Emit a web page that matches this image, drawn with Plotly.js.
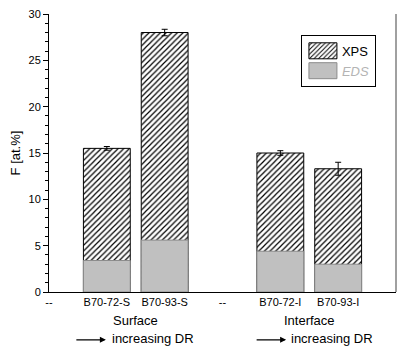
<!DOCTYPE html>
<html>
<head>
<meta charset="utf-8">
<script src="https://cdn.plot.ly/plotly-3.0.1.min.js"></script>
<style>html,body{margin:0;padding:0;background:#fff;}</style>
</head>
<body>
<div id="chart" style="width:397px;height:348px;"></div>
<script>
// Data
var tickPositions = [0, 1, 2, 3, 4, 5, 6];
var tickLabels = ['--', 'B70-72-S', 'B70-93-S', '--', 'B70-72-I', 'B70-93-I', '--'];
var barPositions = [1, 2, 4, 5];
var samples = ['B70-72-S', 'B70-93-S', 'B70-72-I', 'B70-93-I'];
var xpsValues = [15.5, 28.0, 15.0, 13.3];
var xpsErrors = [0.2, 0.35, 0.25, 0.7];
var edsValues = [3.4, 5.6, 4.4, 3.0];
var groupLabels = ['Surface', 'Interface'];
var groupCenters = [1.5, 4.5];

var font = 'Liberation Sans, Arial, sans-serif';

var traces = [
  {
    type: 'bar', x: barPositions, y: xpsValues, name: 'XPS', width: 0.81,
    text: samples, hoverinfo: 'text+y', textposition: 'none',
    marker: {color: 'white', line: {color: '#000', width: 1},
      pattern: {shape: '/', fgcolor: '#000', bgcolor: '#fff', size: 4, solidity: 0.3}},
    error_y: {type: 'data', array: xpsErrors, visible: true, color: '#000', thickness: 1, width: 3}
  },
  {
    type: 'bar', x: barPositions, y: edsValues,
    name: '<span style="color:#b4b4b4"><i>EDS</i></span>', width: 0.81,
    text: samples, hoverinfo: 'text+y', textposition: 'none',
    marker: {color: '#c0c0c0', line: {color: '#8c8c8c', width: 1}}
  }
];

var annotations = [];
groupLabels.forEach(function (g, i) {
  annotations.push({x: groupCenters[i], xref: 'x', y: -0.104, yref: 'paper', text: g,
    showarrow: false, font: {family: font, size: 13, color: '#000'}, xanchor: 'center', yanchor: 'middle'});
});
var arrowTips = [0.983, 4.10];
var textStarts = [1.05, 4.155];
arrowTips.forEach(function (t, i) {
  annotations.push({x: t, xref: 'x', y: -0.172, yref: 'paper', ax: -31, ay: 0, text: '',
    showarrow: true, arrowhead: 2, arrowsize: 1, arrowwidth: 1.2, arrowcolor: '#000'});
  annotations.push({x: textStarts[i], xref: 'x', y: -0.169, yref: 'paper', text: 'increasing DR',
    showarrow: false, font: {family: font, size: 13, color: '#000'}, xanchor: 'left', yanchor: 'middle'});
});

var layout = {
  width: 397, height: 348,
  margin: {l: 49, r: 1, t: 14, b: 56, pad: 0},
  paper_bgcolor: '#fff', plot_bgcolor: '#fff',
  barmode: 'overlay',
  font: {family: font, size: 11, color: '#000'},
  showlegend: true,
  legend: {x: 0.726, y: 0.925, xanchor: 'left', yanchor: 'top', bgcolor: '#fff',
    bordercolor: '#000', borderwidth: 1, font: {family: font, size: 13, color: '#000'},
    itemwidth: 30, tracegroupgap: 0, traceorder: 'normal'},
  xaxis: {
    range: [0, 6], tickmode: 'array', tickvals: tickPositions, ticktext: tickLabels,
    showgrid: false, zeroline: false, showline: true, linecolor: '#000', linewidth: 1,
    ticks: '', tickfont: {family: font, size: 11, color: '#000'}, fixedrange: true
  },
  xaxis2: {
    overlaying: 'x', side: 'top', anchor: 'y', range: [0, 6], tickmode: 'array',
    tickvals: [1, 2, 3, 4, 5], ticks: 'inside', ticklen: 4, tickcolor: '#000',
    showticklabels: false, showgrid: false, zeroline: false, showline: true,
    linecolor: '#000', linewidth: 1
  },
  yaxis: {
    range: [0, 30], dtick: 5, tick0: 0, ticks: 'outside', ticklen: 5, tickcolor: '#000',
    showgrid: false, zeroline: false, showline: true, linecolor: '#000', linewidth: 1,
    tickfont: {family: font, size: 11, color: '#000'},
    minor: {dtick: 1, tick0: 0, ticks: 'outside', ticklen: 3, tickcolor: '#000', tickwidth: 1, showgrid: false},
    title: {text: 'F [at.%]', font: {family: font, size: 13, color: '#000'}, standoff: 4}
  },
  shapes: [
    {type: 'line', xref: 'paper', yref: 'paper', x0: 1, x1: 1, y0: 0, y1: 1,
      line: {color: '#808080', width: 1.5}}
  ],
  annotations: annotations
};

Plotly.newPlot('chart', traces, layout, {displayModeBar: false, staticPlot: true}).then(function (gd) {
  // enlarge legend swatches to wide rectangles like the reference
  var pts = gd.querySelectorAll('.legend .legendpoints path');
  pts.forEach(function (p) {
    p.setAttribute('d', 'M15,8H-13V-8H15Z');
  });
});
</script>
</body>
</html>
